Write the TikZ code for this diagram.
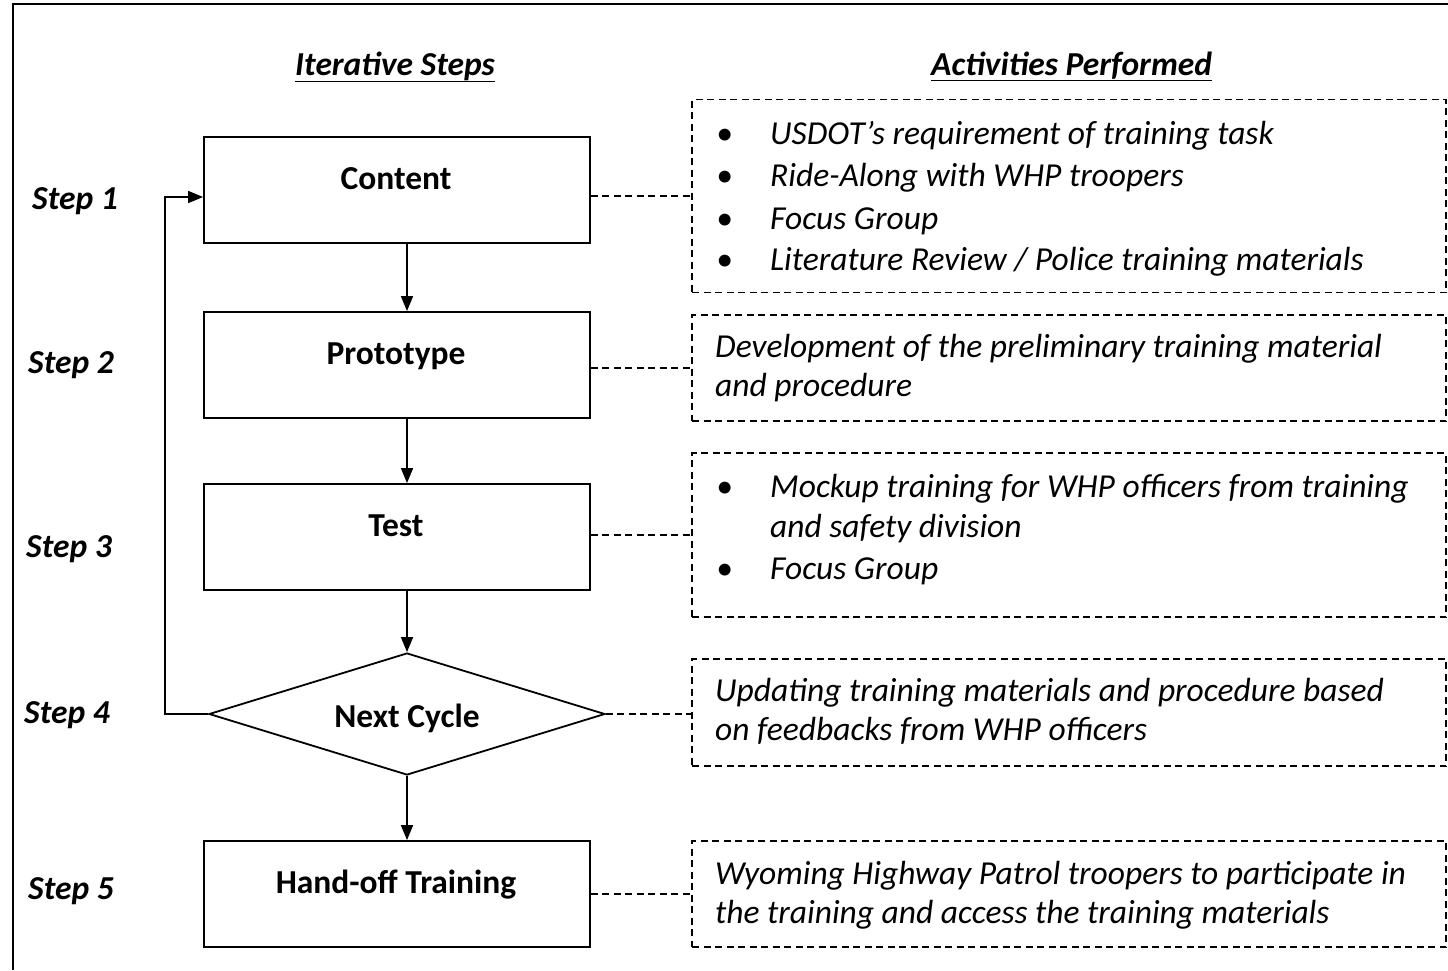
\documentclass[tikz,border=0pt]{standalone}
\usepackage{fontspec}
\setmainfont{Carlito}
\usetikzlibrary{shapes.geometric,arrows.meta}
\begin{document}
\begin{tikzpicture}[x=1pt,y=-1pt,
  box/.style={draw,line width=1.8pt,minimum width=386pt,minimum height=106pt,inner sep=0pt},
  dbox/.style={draw,line width=1.7pt,dash pattern=on 7pt off 4.5pt,inner sep=0pt,minimum width=754pt},
  lab/.style={font=\fontsize{33.5}{40}\selectfont\bfseries,anchor=base,inner sep=0pt},
  body/.style={font=\fontsize{33.5}{41}\selectfont\itshape,anchor=base west,inner sep=0pt},
  steplab/.style={font=\fontsize{33.5}{40}\selectfont\bfseries\itshape,anchor=base west,inner sep=0pt},
  arr/.style={line width=1.6pt,-{Triangle[length=15pt,width=12pt]}},
  conn/.style={line width=1.7pt,dash pattern=on 7pt off 4.5pt}]
\useasboundingbox (0,0) rectangle (1448,970);
\draw[line width=1.8pt] (13,970) -- (13,4) -- (1448,4);

% headings
\node[steplab] (h1) at (295,75) {\underline{Iterative Steps}};
\node[steplab] (h2) at (931,75) {\underline{Activities Performed}};

% step labels
\node[steplab] (s1) at (32,209) {Step 1};
\node[steplab] (s2) at (28,373) {Step 2};
\node[steplab] (s3) at (26,557) {Step 3};
\node[steplab] (s4) at (24,723) {Step 4};
\node[steplab] (s5) at (28,899) {Step 5};

% flow boxes
\node[box] (content) at (397,190) {};
\node[lab] (contentT) at (396,189) {Content};
\node[box] (proto) at (397,365) {};
\node[lab] (protoT) at (396,364) {Prototype};
\node[box] (test) at (397,537) {};
\node[lab] (testT) at (396,536) {Test};
\node[draw,diamond,line width=1.8pt,minimum width=396pt,minimum height=122pt,inner sep=0pt] (dia) at (407,714) {};
\node[lab] (diaT) at (407,727) {Next Cycle};
\node[box] (hand) at (397,894) {};
\node[lab] (handT) at (396,893) {Hand-off Training};

% arrows
\draw[arr] (content.south -| dia.north) -- (proto.north -| dia.north);
\draw[arr] (proto.south -| dia.north) -- (test.north -| dia.north);
\draw[arr] (test.south -| dia.north) -- (dia.north);
\draw[arr] (dia.south) -- (hand.north -| dia.south);
\coordinate (loopx) at (165,0);
\draw[arr] (dia.west) -- (dia.west -| loopx) |- ([yshift=-7pt]content.west);

% activity boxes
\node[dbox,minimum height=193pt] (a1) at (1069,196) {};
\node[dbox,minimum height=106pt] (a2) at (1069,368) {};
\node[dbox,minimum height=164pt] (a3) at (1069,535) {};
\node[dbox,minimum height=107pt] (a4) at (1069,712.5) {};
\node[dbox,minimum height=106pt] (a5) at (1069,894) {};

\draw[conn] (content.east |- a1.west) -- (a1.west);
\draw[conn] (proto.east |- a2.west) -- (a2.west);
\draw[conn] (test.east |- a3.west) -- (a3.west);
\draw[conn] (dia.east) -- (dia.east -| a4.west);
\draw[conn] (hand.east |- a5.west) -- (a5.west);

% activity texts
\node[body] (b1a) at (716,144) {\makebox[54pt][l]{•}USDOT’s requirement of training task};
\node[body] (b1b) at (716,186) {\makebox[54pt][l]{•}Ride-Along with WHP troopers};
\node[body] (b1c) at (716,229) {\makebox[54pt][l]{•}Focus Group};
\node[body] (b1d) at (716,270) {\makebox[54pt][l]{•}Literature Review / Police training materials};

\node[body] (b2a) at (715,357) {Development of the preliminary training material};
\node[body] (b2b) at (715,396) {and procedure};

\node[body] (b3a) at (716,497) {\makebox[54pt][l]{•}Mockup training for WHP officers from training};
\node[body] (b3b) at (770,537) {and safety division};
\node[body] (b3c) at (716,579) {\makebox[54pt][l]{•}Focus Group};

\node[body] (b4a) at (715,701) {Updating training materials and procedure based};
\node[body] (b4b) at (715,740) {on feedbacks from WHP officers};

\node[body] (b5a) at (715,884) {Wyoming Highway Patrol troopers to participate in};
\node[body] (b5b) at (715,923) {the training and access the training materials};
\end{tikzpicture}
\end{document}
